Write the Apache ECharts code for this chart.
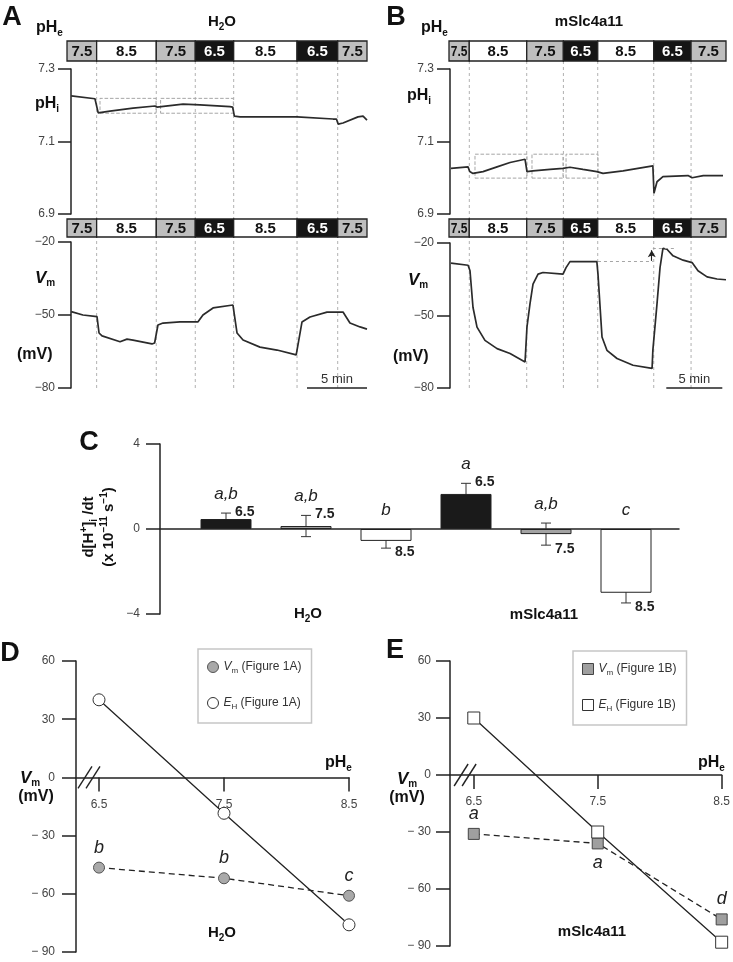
<!DOCTYPE html>
<html>
<head>
<meta charset="utf-8">
<script src="https://cdn.jsdelivr.net/npm/echarts@6.0.0/dist/echarts.min.js"></script>
<style>html,body{margin:0;padding:0;background:#fff;}#chart{width:733px;height:962px;}</style>
</head>
<body>
<div id="chart"></div>
<script>
// ================= DATA =================
// Panels A / B : perfusion protocol (pHe) and traces, time in minutes
const pHeSequence = ['7.5','8.5','7.5','6.5','8.5','6.5','7.5'];
const A_segmentEdges = [0, 2.47, 7.44, 10.69, 13.89, 19.17, 22.56, 25.0];
const B_segmentEdges = [0, 1.81, 6.94, 10.21, 13.28, 18.28, 21.61, 24.73];

const A_pHi = [[0.35,7.226],[2.33,7.218],[2.45,7.216],[2.6,7.179],[3.58,7.184],[5.5,7.192],[7.33,7.198],[7.5,7.195],
  [9.67,7.203],[11.08,7.201],[13.58,7.196],[13.8,7.195],[13.95,7.170],[14.42,7.168],[18.33,7.168],[19.17,7.168],
  [22.17,7.162],[22.45,7.162],[22.6,7.148],[23.0,7.151],[24.25,7.168],[24.67,7.170],[25.0,7.159]];
const A_Vm = [[0.35,-48.6],[1.33,-50.0],[2.5,-50.7],[2.67,-57.4],[2.92,-58.6],[4.42,-61.0],[5.0,-59.9],[5.5,-60.3],
  [7.08,-61.9],[7.3,-61.5],[7.58,-54.1],[8.0,-53.3],[9.42,-52.8],[10.92,-52.8],[11.33,-50.0],[12.17,-47.1],
  [13.83,-45.9],[14.17,-57.4],[14.67,-60.3],[16.08,-63.2],[17.5,-64.4],[19.1,-66.4],[19.58,-52.9],[20.25,-50.8],
  [21.67,-48.8],[23.0,-48.8],[23.58,-53.3],[24.42,-54.9],[25.0,-55.8]];
const B_pHi = [[0.18,7.026],[1.7,7.030],[1.85,7.017],[2.14,7.012],[3.04,7.017],[4.29,7.030],[5.45,7.042],[6.79,7.051],
  [6.96,7.017],[7.5,7.019],[9.02,7.023],[10.18,7.026],[10.8,7.029],[11.96,7.023],[13.2,7.017],[13.75,7.012],
  [15.54,7.019],[18.2,7.033],[18.3,6.957],[18.57,6.989],[19.1,7.003],[21.34,7.006],[21.7,7.000],[22.7,7.006],[24.46,7.006]];
const B_Vm = [[0.18,-28.3],[1.7,-29.2],[1.875,-31.5],[2.14,-46.6],[2.5,-54.8],[3.21,-60.3],[4.29,-63.7],[5.45,-65.7],
  [6.79,-69.2],[6.96,-54.8],[7.23,-45.2],[7.5,-37.0],[7.95,-32.9],[8.39,-32.2],[10.18,-32.9],[10.45,-30.2],
  [10.8,-27.7],[13.2,-27.7],[13.3,-32.9],[13.66,-58.9],[14.1,-64.4],[15.0,-67.8],[16.43,-70.6],[18.13,-71.9],
  [18.2,-64.4],[18.57,-45.2],[18.84,-30.2],[19.1,-22.2],[19.46,-22.6],[20.0,-25.3],[20.9,-27.1],[21.7,-28.1],
  [22.23,-31.5],[23.04,-34.0],[23.93,-34.9],[24.73,-35.2]];
const A_fitWindows = [[2.75,7.42,7.178,7.219],[7.8,13.86,7.178,7.219]];
const B_fitWindows = [[2.32,6.96,6.999,7.065],[7.41,10.18,6.999,7.065],[10.45,13.3,6.999,7.065]];
const B_overshoot = {start:13.3, jump:18.2, end:20.1, base:-27.7, peak:-22.2};
const pHiTicks = [6.9, 7.1, 7.3];
const VmTicks = [-80, -50, -20];
const scaleBarMinutes = 5;
const A_scaleEnd = 25.0, B_scaleEnd = 24.4;

// Panel C : d[H+]i/dt (x 1e-11 s-1)
const C_pHe = ['6.5','7.5','8.5','6.5','7.5','8.5'];
const C_rate = [0.47, 0.14, -0.56, 1.65, -0.24, -3.0];
const C_sem = [0.28, 0.5, 0.34, 0.5, 0.52, 0.48];
const C_sig = ['a,b','a,b','b','a','a,b','c'];
const C_ticks = [-4, 0, 4];

// Panels D / E : Vm and EH vs pHe
const pHeLevels = [6.5, 7.5, 8.5];
const D_Vm = [-46.5, -52, -61];
const D_EH = [40, -18.5, -76];
const D_sig = ['b','b','c'];
const E_Vm = [-31, -36, -76];
const E_EH = [30, -30, -88];
const E_sig = ['a','a','d'];
const DE_yTicks = [-90, -60, -30, 0, 30, 60];

// ================= STYLE / LAYOUT =================
const NARROW = '"Liberation Sans Narrow","Liberation Sans",Arial,sans-serif';
const BOLD = '"Liberation Sans",Arial,sans-serif';
const AX = '#222';
const TICKC = '#444';
const TICKFS = 12;

const RICH = {
  b:{fontFamily:BOLD, fontWeight:'bold', fontSize:15, lineHeight:20},
  bb:{fontFamily:BOLD, fontWeight:'bold', fontSize:16, lineHeight:20},
  bi:{fontFamily:BOLD, fontWeight:'bold', fontStyle:'italic', fontSize:17, lineHeight:20},
  s:{fontFamily:BOLD, fontWeight:'bold', fontSize:10, lineHeight:10, verticalAlign:'bottom'},
  sup:{fontFamily:BOLD, fontWeight:'bold', fontSize:10, lineHeight:10, verticalAlign:'top'},
  L:{fontFamily:BOLD, fontWeight:'bold', fontSize:27, lineHeight:30}
};
function T(x, y, text, align, extra) {
  const a = align || 'left';
  return Object.assign({type:'text', x, y, silent:true, z:100,
    style:{text, rich:RICH, fill:'#111', align:a, textAlign:a, verticalAlign:'middle', textVerticalAlign:'middle'}}, extra || {});
}

const grids = [], xAxes = [], yAxes = [], series = [];
function addGrid(g, x, y) { grids.push(g); xAxes.push(Object.assign({gridIndex:grids.length-1}, x)); yAxes.push(Object.assign({gridIndex:grids.length-1}, y)); return grids.length-1; }
const hidden = (min, max) => ({type:'value', min, max, show:false, splitLine:{show:false}});
function valueYAxis(min, max, ticks, fmt, tickLen, gap, offset) {
  return {type:'value', min, max, offset:offset||0,
    axisLine:{show:true, onZero:false, lineStyle:{color:AX, width:1.5}},
    axisTick:{show:true, length:tickLen, customValues:ticks, lineStyle:{color:AX, width:1.5}},
    axisLabel:{show:true, customValues:ticks, formatter:fmt, color:TICKC, fontFamily:NARROW, fontSize:TICKFS, margin:tickLen + gap},
    splitLine:{show:false}};
}
const minusFmt = v => v < 0 ? '\u2212' + Math.abs(v) : String(v);
const minusSpaceFmt = v => v < 0 ? '\u2212 ' + Math.abs(v) : String(v);

function segmentSeries(idx, edges) {
  return {type:'custom', xAxisIndex:idx, yAxisIndex:idx, silent:true, z:6,
    encode:{x:[0,1], y:2},
    data: pHeSequence.map((p,i) => [edges[i], edges[i+1], 0.5]),
    renderItem:(params, api) => {
      const lab = pHeSequence[params.dataIndex];
      const p0 = api.coord([api.value(0), 1]), p1 = api.coord([api.value(1), 0]);
      const fill = lab === '6.5' ? '#151515' : (lab === '7.5' ? '#bebebe' : '#ffffff');
      const tc = lab === '6.5' ? '#ffffff' : '#111';
      const w = p1[0]-p0[0];
      return {type:'group', children:[
        {type:'rect', shape:{x:p0[0], y:p0[1], width:w, height:p1[1]-p0[1]}, style:{fill, stroke:'#222', lineWidth:1.3}},
        {type:'text', x:(p0[0]+p1[0])/2, y:(p0[1]+p1[1])/2+0.5, scaleX: w < 26 ? 0.8 : 1,
          style:{text:lab, font:'bold 15px '+BOLD, fill:tc, align:'center', textAlign:'center', verticalAlign:'middle', textVerticalAlign:'middle'}}
      ]};
    }};
}
function boundarySeries(idx, edges) {
  return {type:'custom', xAxisIndex:idx, yAxisIndex:idx, silent:true, z:1,
    encode:{x:0, y:1},
    data: edges.slice(1,-1).map(t => [t, 0]),
    renderItem:(params, api) => {
      const a = api.coord([api.value(0), 1]), b = api.coord([api.value(0), 0]);
      return {type:'line', shape:{x1:a[0], y1:a[1], x2:b[0], y2:b[1]}, style:{stroke:'#a9a9a9', lineWidth:0.9, lineDash:[3,3]}};
    }};
}
function traceSeries(idx, data, extra) {
  return Object.assign({type:'line', xAxisIndex:idx, yAxisIndex:idx, data, showSymbol:false, symbol:'none', clip:false, silent:true,
    lineStyle:{color:'#2b2b2b', width:1.7}, z:4}, extra || {});
}
function windowsArea(wins) {
  return {silent:true, itemStyle:{color:'rgba(0,0,0,0)', borderColor:'#9c9c9c', borderWidth:0.9, borderType:'dashed'},
    data: wins.map(w => [{coord:[w[0], w[2]]}, {coord:[w[1], w[3]]}])};
}
function scaleBarItem(end) {
  return [{coord:[end - scaleBarMinutes, VmTicks[0]], lineStyle:{color:'#222', width:1.6, type:'solid'},
    label:{show:true, formatter:scaleBarMinutes + ' min', position:'insideMiddleTop', distance:2, color:'#333', fontFamily:NARROW, fontSize:13}},
    {coord:[end, VmTicks[0]]}];
}

// ---------- Panel A ----------
const A_max = A_segmentEdges[A_segmentEdges.length-1];
const gA0 = addGrid({left:67, top:41, width:300, height:20}, hidden(0, A_max), hidden(0,1));
const gA1 = addGrid({left:67, top:69, width:300, height:145}, hidden(0, A_max), valueYAxis(6.9, 7.3, pHiTicks, v => v.toFixed(1), 13, 3, -4));
const gA2 = addGrid({left:67, top:219, width:300, height:18}, hidden(0, A_max), hidden(0,1));
const gA3 = addGrid({left:67, top:242, width:300, height:146}, hidden(0, A_max), valueYAxis(-80, -20, VmTicks, minusFmt, 13, 3, -4));
const gA4 = addGrid({left:67, top:61, width:300, height:328}, hidden(0, A_max), hidden(0,1));
series.push(boundarySeries(gA4, A_segmentEdges));
series.push(segmentSeries(gA0, A_segmentEdges));
series.push(segmentSeries(gA2, A_segmentEdges));
series.push(traceSeries(gA1, A_pHi, {markArea:windowsArea(A_fitWindows)}));
series.push(traceSeries(gA3, A_Vm, {markLine:{silent:true, symbol:'none', animation:false, label:{show:false}, data:[scaleBarItem(A_scaleEnd)]}}));

// ---------- Panel B ----------
const B_max = B_segmentEdges[B_segmentEdges.length-1];
const gB0 = addGrid({left:449, top:41, width:277, height:20}, hidden(0, B_max), hidden(0,1));
const gB1 = addGrid({left:449, top:69, width:277, height:145}, hidden(0, B_max), valueYAxis(6.9, 7.3, pHiTicks, v => v.toFixed(1), 13, 3, -1));
const gB2 = addGrid({left:449, top:219, width:277, height:18}, hidden(0, B_max), hidden(0,1));
const gB3 = addGrid({left:449, top:243, width:277, height:145}, hidden(0, B_max), valueYAxis(-80, -20, VmTicks, minusFmt, 13, 3, -1));
const gB4 = addGrid({left:449, top:61, width:277, height:328}, hidden(0, B_max), hidden(0,1));
series.push(boundarySeries(gB4, B_segmentEdges));
series.push(segmentSeries(gB0, B_segmentEdges));
series.push(segmentSeries(gB2, B_segmentEdges));
series.push(traceSeries(gB1, B_pHi, {markArea:windowsArea(B_fitWindows)}));
const dashGrey = {color:'#9c9c9c', width:0.9, type:[3,3]};
series.push(traceSeries(gB3, B_Vm, {markLine:{silent:true, symbol:'none', animation:false, label:{show:false}, lineStyle:dashGrey, data:[
  scaleBarItem(B_scaleEnd),
  [{coord:[B_overshoot.start, B_overshoot.base], lineStyle:dashGrey}, {coord:[B_overshoot.jump, B_overshoot.base]}],
  [{coord:[B_overshoot.jump, B_overshoot.peak], lineStyle:dashGrey}, {coord:[B_overshoot.end, B_overshoot.peak]}],
  [{coord:[B_overshoot.jump - 0.1, B_overshoot.base + 0.3], symbol:'none', lineStyle:{color:'#222', width:1.1, type:'solid'}},
   {coord:[B_overshoot.jump - 0.1, B_overshoot.peak - 0.8], symbol:'arrow', symbolSize:[6,7]}]
]}}));

// ---------- Panel C ----------
const gC0 = addGrid({left:160, top:444, width:519, height:170},
  {type:'value', min:0, max:1, axisLine:{show:true, onZero:true, lineStyle:{color:AX, width:1.5}}, axisTick:{show:false}, axisLabel:{show:false}, splitLine:{show:false}},
  Object.assign(valueYAxis(-4, 4, C_ticks, minusFmt, 14, 6, 0), {interval:4}));
const gC1 = addGrid({left:186, top:444, width:480, height:170},
  {type:'category', data:C_pHe.map((p,i) => i), show:false, boundaryGap:true},
  hidden(-4, 4));
const cFill = p => p === '6.5' ? '#1a1a1a' : (p === '7.5' ? '#a3a3a3' : '#ffffff');
series.push({type:'custom', xAxisIndex:gC1, yAxisIndex:gC1, silent:true, z:1, encode:{x:0, y:1},
  data: C_rate.map((v,i) => [i, v]),
  renderItem:(params, api) => {
    const i = params.dataIndex, v = C_rate[i], e = C_sem[i];
    const t = api.coord([i, v+e]), b = api.coord([i, v-e]);
    const st = {stroke:'#333', lineWidth:1};
    return {type:'group', children:[
      {type:'line', shape:{x1:t[0], y1:t[1], x2:b[0], y2:b[1]}, style:st},
      {type:'line', shape:{x1:t[0]-5, y1:t[1], x2:t[0]+5, y2:t[1]}, style:st},
      {type:'line', shape:{x1:b[0]-5, y1:b[1], x2:b[0]+5, y2:b[1]}, style:st}
    ]};
  }});
series.push({type:'bar', xAxisIndex:gC1, yAxisIndex:gC1, silent:true, z:3, barWidth:51,
  data: C_rate.map((v,i) => ({value:v, itemStyle:{color:cFill(C_pHe[i]), borderColor:'#222', borderWidth:1}}))});
series.push({type:'custom', xAxisIndex:gC1, yAxisIndex:gC1, silent:true, z:6, encode:{x:0, y:1},
  data: C_rate.map((v,i) => [i, v]),
  renderItem:(params, api) => {
    const i = params.dataIndex, v = C_rate[i], e = C_sem[i];
    const c = api.coord([i, v]);
    const top = api.coord([i, v+e])[1], bot = api.coord([i, v-e])[1], zero = api.coord([i, 0])[1];
    const ly = Math.min(top, zero) - 19;
    const py = v >= 0 ? top - 1 : bot + 4;
    return {type:'group', children:[
      {type:'text', x:c[0], y:ly, style:{text:C_sig[i], font:'italic 17px '+NARROW, fill:'#222', align:'center', textAlign:'center', verticalAlign:'middle', textVerticalAlign:'middle'}},
      {type:'text', x:c[0]+9, y:py, style:{text:C_pHe[i], font:'bold 14px '+BOLD, fill:'#222', align:'left', textAlign:'left', verticalAlign:'middle', textVerticalAlign:'middle'}}
    ]};
  }});

// ---------- Panels D / E ----------
const DE_min = DE_yTicks[0], DE_max = DE_yTicks[DE_yTicks.length-1];
function deXAxis(min, gridHeight) {
  // x axis drawn at y = 0 (moved up from the grid bottom by the library's axis offset)
  const zeroFromBottom = gridHeight * (0 - DE_min) / (DE_max - DE_min);
  return {type:'value', min, max:8.5, position:'bottom', offset:-zeroFromBottom,
    axisLine:{show:true, onZero:false, lineStyle:{color:AX, width:1.5}},
    axisTick:{show:true, length:14, customValues:pHeLevels, lineStyle:{color:AX, width:1.5}},
    axisLabel:{show:true, customValues:pHeLevels, formatter:v => v.toFixed(1), margin:21, color:TICKC, fontFamily:NARROW, fontSize:TICKFS},
    splitLine:{show:false}};
}
function deYAxis(gap) {
  return Object.assign(valueYAxis(DE_min, DE_max, DE_yTicks, minusSpaceFmt, 14, gap, 0), {interval:30});
}
const gD = addGrid({left:76, top:661, width:273, height:291}, deXAxis(6.316, 291), deYAxis(7));
const gE = addGrid({left:450, top:661, width:274, height:285}, deXAxis(6.308, 285), deYAxis(5));

function breakSeries(idx, at) {
  return {type:'custom', xAxisIndex:idx, yAxisIndex:idx, silent:true, z:5, encode:{x:0, y:1}, data:[[at, 0]],
    renderItem:(params, api) => {
      const c = api.coord([api.value(0), api.value(1)]);
      const mk = dx => ({type:'line', shape:{x1:c[0]+dx-7, y1:c[1]+11, x2:c[0]+dx+7, y2:c[1]-11}, style:{stroke:'#222', lineWidth:1.4}});
      return {type:'group', children:[mk(-4), mk(4)]};
    }};
}
series.push(breakSeries(gD, 6.42));
series.push(breakSeries(gE, 6.43));

const sigLabel = {show:true, position:'top', distance:5, fontFamily:NARROW, fontStyle:'italic', fontSize:18, color:'#222'};
const vmItem = {color:'#a9a9a9', borderColor:'#555', borderWidth:1};
const ehItem = {color:'#ffffff', borderColor:'#333', borderWidth:1};
series.push({type:'line', name:'Vm (Figure 1A)', xAxisIndex:gD, yAxisIndex:gD, z:3, silent:true,
  data: pHeLevels.map((x,i) => [x, D_Vm[i]]), symbol:'circle', symbolSize:11,
  lineStyle:{color:'#222', width:1.3, type:[6,4]}, itemStyle:vmItem,
  label:Object.assign({}, sigLabel, {formatter:p => D_sig[p.dataIndex]})});
series.push({type:'line', name:'EH (Figure 1A)', xAxisIndex:gD, yAxisIndex:gD, z:4, silent:true,
  data: pHeLevels.map((x,i) => [x, D_EH[i]]), symbol:'circle', symbolSize:12,
  lineStyle:{color:'#222', width:1.3}, itemStyle:ehItem});
const E_labelPos = ['top','bottom','top'];
series.push({type:'line', name:'Vm (Figure 1B)', xAxisIndex:gE, yAxisIndex:gE, z:3, silent:true,
  data: pHeLevels.map((x,i) => ({value:[x, E_Vm[i]], label:{position:E_labelPos[i]}})), symbol:'rect', symbolSize:11,
  lineStyle:{color:'#222', width:1.3, type:[6,4]}, itemStyle:{color:'#9f9f9f', borderColor:'#444', borderWidth:1},
  label:Object.assign({}, sigLabel, {formatter:p => E_sig[p.dataIndex]})});
series.push({type:'line', name:'EH (Figure 1B)', xAxisIndex:gE, yAxisIndex:gE, z:4, silent:true,
  data: pHeLevels.map((x,i) => [x, E_EH[i]]), symbol:'rect', symbolSize:12,
  lineStyle:{color:'#222', width:1.3}, itemStyle:ehItem});

function legendFmt(n) { const m = n.match(/^(V|E)(m|H) (.*)$/); return '{i|' + m[1] + '}{s|' + m[2] + '}{t| ' + m[3] + '}'; }
const legendText = {fontFamily:NARROW, fontSize:12, color:'#333', rich:{
  i:{fontFamily:NARROW, fontStyle:'italic', fontSize:12, lineHeight:16, color:'#333'},
  s:{fontFamily:NARROW, fontSize:8, lineHeight:8, verticalAlign:'bottom', color:'#333'},
  t:{fontFamily:NARROW, fontSize:12, lineHeight:16, color:'#333'}}};
function legendFor(left, top, names, icon, vmStyle) {
  return {left, top, orient:'vertical', selectedMode:false, padding:[12,10,12,9], itemGap:22, itemWidth:11, itemHeight:11,
    borderColor:'#c6c6c6', borderWidth:1.5, formatter:legendFmt, textStyle:legendText,
    data:[{name:names[0], icon, itemStyle:vmStyle}, {name:names[1], icon, itemStyle:ehItem}]};
}

// ---------- Text ----------
const H2O = '{b|H}{s|2}{b|O}';
const graphics = [
  T(12, 18, '{L|A}', 'center'), T(396, 18, '{L|B}', 'center'), T(89, 443, '{L|C}', 'center'),
  T(10, 654, '{L|D}', 'center'), T(395, 651, '{L|E}', 'center'),
  T(222, 22, H2O, 'center'), T(589, 22, '{b|mSlc4a11}', 'center'),
  T(36, 28, '{bb|pH}{s|e}'), T(421, 28, '{bb|pH}{s|e}'),
  T(35, 104, '{bb|pH}{s|i}'), T(407, 96, '{bb|pH}{s|i}'),
  T(35, 278, '{bi|V}{s|m}'), T(408, 280, '{bi|V}{s|m}'),
  T(17, 355, '{bb|(mV)}'), T(393, 357, '{bb|(mV)}'),
  T(99, 527, '{b|d[H}{sup|+}{b|]}{s|i}{b| /dt}\n{b|(x 10}{sup|\u221211}{b| s}{sup|\u22121}{b|)}', 'center', {rotation:Math.PI/2}),
  T(308, 614, H2O, 'center'), T(544, 615, '{b|mSlc4a11}', 'center'),
  T(325, 763, '{bb|pH}{s|e}'), T(698, 763, '{bb|pH}{s|e}'),
  T(20, 778, '{bi|V}{s|m}'), T(397, 779, '{bi|V}{s|m}'),
  T(36, 797, '{bb|(mV)}', 'center'), T(407, 798, '{bb|(mV)}', 'center'),
  T(222, 933, H2O, 'center'), T(592, 932, '{b|mSlc4a11}', 'center')
];

const chart = echarts.init(document.getElementById('chart'), null, {renderer:'canvas'});
chart.setOption({
  animation:false,
  backgroundColor:'#ffffff',
  textStyle:{fontFamily:NARROW},
  grid:grids, xAxis:xAxes, yAxis:yAxes, series,
  legend:[
    legendFor(198, 649, ['Vm (Figure 1A)','EH (Figure 1A)'], 'circle', vmItem),
    legendFor(573, 651, ['Vm (Figure 1B)','EH (Figure 1B)'], 'rect', {color:'#9f9f9f', borderColor:'#444', borderWidth:1})
  ],
  graphic:graphics
});
</script>
</body>
</html>
